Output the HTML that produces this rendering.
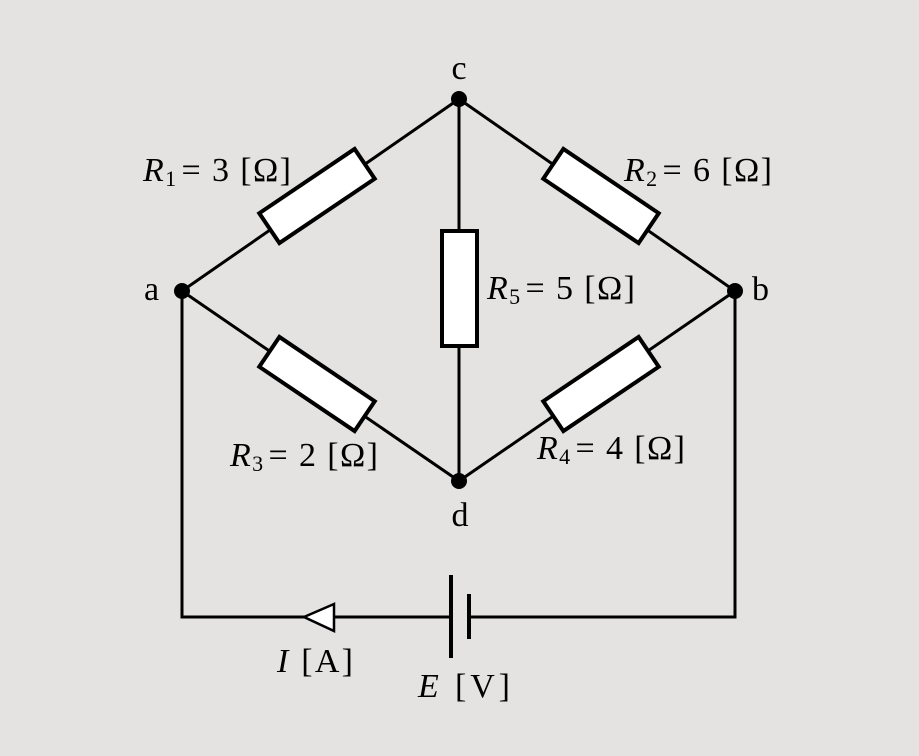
<!DOCTYPE html>
<html><head><meta charset="utf-8"><style>
html,body{margin:0;padding:0;background:#e4e3e1;}
svg{display:block}
text{font-family:"Liberation Serif",serif;font-size:34px;fill:#000}
.i{font-style:italic}
</style></head><body>
<svg width="919" height="756" viewBox="0 0 919 756">
<rect width="919" height="756" fill="#e4e3e1"/>
<g stroke="#000" stroke-width="3" fill="none">
<polyline points="182,291 459,99 735,291 459,481 182,291"/>
<line x1="459" y1="99" x2="459" y2="481"/>
<polyline points="182,291 182,617 451,617"/>
<polyline points="469,617 735,617 735,291"/>
</g>
<g stroke="#000" stroke-width="4" fill="#fff">
<rect x="-57.5" y="-18" width="115" height="36" transform="translate(317,196) rotate(-34)"/>
<rect x="-57.5" y="-18" width="115" height="36" transform="translate(601,196) rotate(34)"/>
<rect x="-57.5" y="-18" width="115" height="36" transform="translate(317,384) rotate(34)"/>
<rect x="-57.5" y="-18" width="115" height="36" transform="translate(601,384) rotate(-34)"/>
<rect x="442" y="231" width="35" height="115"/>
</g>
<g fill="#000">
<circle cx="459" cy="99" r="8"/><circle cx="459" cy="481" r="8"/>
<circle cx="182" cy="291" r="8"/><circle cx="735" cy="291" r="8"/>
<rect x="449" y="575" width="4" height="83"/>
<rect x="467" y="594" width="4" height="45"/>
</g>
<polygon points="304,617 334,604 334,631" fill="#fff" stroke="#000" stroke-width="2.5"/>
<text x="459" y="79" text-anchor="middle">c</text>
<text x="460" y="526" text-anchor="middle">d</text>
<text x="144" y="300">a</text>
<text x="752" y="300">b</text>
<text x="143" y="181" textLength="148" lengthAdjust="spacing"><tspan class="i">R</tspan><tspan font-size="22" dy="5">1</tspan><tspan dy="-5" dx="4">= 3 [Ω]</tspan></text>
<text x="624" y="181" textLength="148" lengthAdjust="spacing"><tspan class="i">R</tspan><tspan font-size="22" dy="5">2</tspan><tspan dy="-5" dx="4">= 6 [Ω]</tspan></text>
<text x="487" y="299" textLength="148" lengthAdjust="spacing"><tspan class="i">R</tspan><tspan font-size="22" dy="5">5</tspan><tspan dy="-5" dx="4">= 5 [Ω]</tspan></text>
<text x="230" y="466" textLength="148" lengthAdjust="spacing"><tspan class="i">R</tspan><tspan font-size="22" dy="5">3</tspan><tspan dy="-5" dx="4">= 2 [Ω]</tspan></text>
<text x="537" y="459" textLength="148" lengthAdjust="spacing"><tspan class="i">R</tspan><tspan font-size="22" dy="5">4</tspan><tspan dy="-5" dx="4">= 4 [Ω]</tspan></text>
<text x="277" y="672" textLength="76" lengthAdjust="spacing"><tspan class="i">I</tspan> [A]</text>
<text x="418" y="697" textLength="92" lengthAdjust="spacing"><tspan class="i">E</tspan> [V]</text>
</svg>
</body></html>
